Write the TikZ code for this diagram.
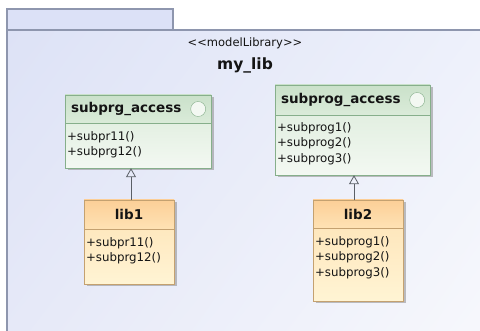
\documentclass[tikz,border=0pt]{standalone}
\usepackage{fontspec}
\setmainfont{DejaVu Sans}
\usetikzlibrary{arrows.meta,positioning,shadows,shadings}
\definecolor{PkgLine}{HTML}{8E96AE}
\definecolor{PkgTab}{HTML}{DCE1F7}
\definecolor{PkgUL}{HTML}{DDE2F6}
\definecolor{PkgUR}{HTML}{EEF1FB}
\definecolor{PkgLL}{HTML}{E6E9F8}
\definecolor{PkgLR}{HTML}{F7F8FC}
\definecolor{GreenLine}{HTML}{86AF8B}
\definecolor{GreenTop}{HTML}{CAE1CA}
\definecolor{GreenMid}{HTML}{DAEBD9}
\definecolor{GreenBot}{HTML}{F3F8F2}
\definecolor{OrangeLine}{HTML}{C4A170}
\definecolor{OrangeTop}{HTML}{FCCF97}
\definecolor{OrangeMid}{HTML}{FEE2B4}
\definecolor{OrangeBot}{HTML}{FFF4D4}
\definecolor{Ink}{HTML}{141414}
\definecolor{GenLine}{HTML}{5A5F66}

\begin{document}
\begin{tikzpicture}[x=1pt,y=-1pt,
    shadowed/.style={drop shadow={shadow xshift=2.5pt,shadow yshift=-2.5pt,fill=black!45,opacity=0.55}},
    greenbox/.style={shadowed,draw=GreenLine,top color=GreenMid,bottom color=GreenBot,inner sep=0pt},
    greenhead/.style={draw=GreenLine,top color=GreenTop,bottom color=GreenMid,inner sep=0pt},
    orangebox/.style={shadowed,draw=OrangeLine,top color=OrangeMid,bottom color=OrangeBot,inner sep=0pt},
    orangehead/.style={draw=OrangeLine,top color=OrangeTop,bottom color=OrangeMid,inner sep=0pt},
    cname/.style={font=\fontsize{13.5}{15}\selectfont\bfseries,text=Ink,inner sep=0pt},
    ops/.style={font=\fontsize{11.8}{15.5}\selectfont,text=Ink,align=left,anchor=north west,inner sep=0pt},
    iface/.style={circle,draw=GreenLine,fill=GreenBot,minimum size=15pt,inner sep=0pt},
    gen/.style={GenLine,thick,-{Triangle[open,length=9pt,width=10pt]}}]
  \useasboundingbox (0,0) rectangle (480,331);
  \begin{scope}
    \clip (0,0) rectangle (480,331);
    % package frame
    \shade[upper left=PkgUL,upper right=PkgUR,lower left=PkgLL,lower right=PkgLR] (7,30) rectangle (490,340);
    \fill[PkgTab] (7,9) rectangle (173,30);
    \draw[PkgLine,line width=1.2pt] (7,340) -- (7,9) -- (173,9) -- (173,30);
    \draw[PkgLine,line width=1.2pt] (7,30) -- (490,30);
  \end{scope}
  \node[font=\fontsize{11.5}{13}\selectfont,text=Ink] (stereo) at (245,43) {{<}{<}modelLibrary{>}{>}};
  \node[font=\fontsize{15.5}{17}\selectfont\bfseries,text=Ink] (pkgname) at (245,65) {my\_lib};

  % interfaces
  \node[greenbox,minimum width=146pt,minimum height=73pt] (acc1) at (138,131.5) {};
  \node[greenhead,minimum width=146pt,minimum height=28pt,anchor=north] (acc1h) at (acc1.north) {};
  \node[cname,anchor=west] (acc1n) at ([xshift=6pt]acc1h.west) {subprg\_access};
  \node[iface] (acc1c) at ([xshift=-13pt]acc1h.east) {};
  \node[ops] (acc1o) at ([xshift=2pt,yshift=-8pt]acc1h.south west) {+subpr11()\\+subprg12()};

  \node[greenbox,minimum width=155pt,minimum height=90pt] (acc2) at (352.5,130) {};
  \node[greenhead,minimum width=155pt,minimum height=30pt,anchor=north] (acc2h) at (acc2.north) {};
  \node[cname,anchor=west] (acc2n) at ([xshift=6pt]acc2h.west) {subprog\_access};
  \node[iface] (acc2c) at ([xshift=-13pt]acc2h.east) {};
  \node[ops] (acc2o) at ([xshift=2pt,yshift=-7pt]acc2h.south west) {+subprog1()\\+subprog2()\\+subprog3()};

  % implementing blocks
  \node[orangebox,minimum width=90pt,minimum height=84pt] (lib1) at (129,242) {};
  \node[orangehead,minimum width=90pt,minimum height=29pt,anchor=north] (lib1h) at (lib1.north) {};
  \node[cname] (lib1n) at (lib1h) {lib1};
  \node[ops] (lib1o) at ([xshift=2pt,yshift=-8pt]lib1h.south west) {+subpr11()\\+subprg12()};

  \node[orangebox,minimum width=90pt,minimum height=101pt] (lib2) at (358,250.5) {};
  \node[orangehead,minimum width=90pt,minimum height=28pt,anchor=north] (lib2h) at (lib2.north) {};
  \node[cname] (lib2n) at (lib2h) {lib2};
  \node[ops] (lib2o) at ([xshift=2pt,yshift=-8pt]lib2h.south west) {+subprog1()\\+subprog2()\\+subprog3()};

  % generalizations
  \draw[gen] ([xshift=2pt]lib1.north) -- ([xshift=2pt]lib1.north |- acc1.south);
  \draw[gen] ([xshift=-4pt]lib2.north) -- ([xshift=-4pt]lib2.north |- acc2.south);
\end{tikzpicture}
\end{document}
